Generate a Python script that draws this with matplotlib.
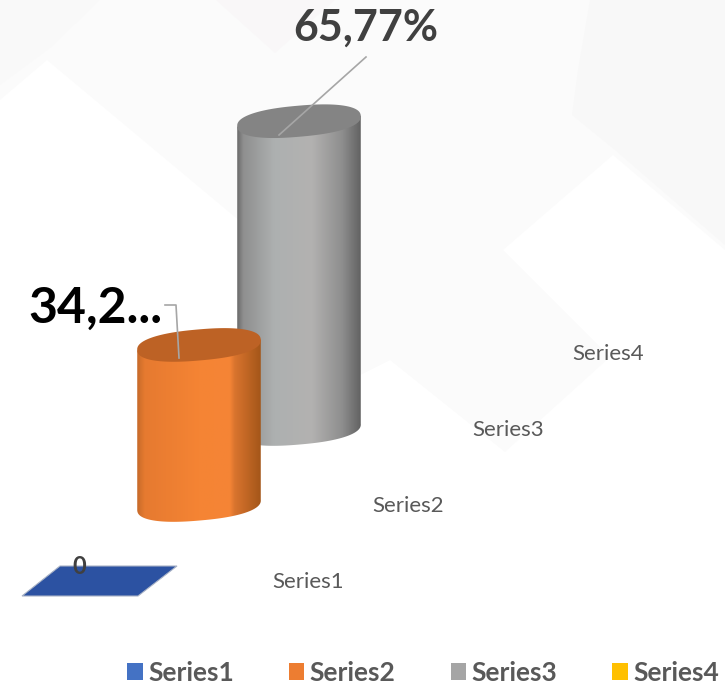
import matplotlib
matplotlib.use("Agg")
import matplotlib.pyplot as plt
from matplotlib.colors import to_rgb
from matplotlib.patches import Polygon, Patch
import numpy as np

categories = ["Series1", "Series2", "Series3", "Series4"]
values = [0, 34.2, 65.77, 0]
labels = ["0", "34,2...", "65,77%"]
legend_colors = ["#4472c4", "#ed7d31", "#a5a5a5", "#ffc000"]

plt.rcParams['font.family'] = ['Lato', 'DejaVu Sans']

W, H = 725, 685
fig = plt.figure(figsize=(W / 100, H / 100), dpi=100)
ax = fig.add_axes([0, 0, 1, 1])
ax.set_xlim(0, W)
ax.set_ylim(H, 0)
ax.axis('off')

# pseudo 3d floor: each category steps right and back
PX_PER_UNIT = 4.68
HALF_W = 62
HALF_H = 15.5
TILT = np.radians(-5)


def base(i):
    return 99 + 100 * i, 581 - 76 * i


def ring(t):
    # slightly squarish ellipse, the columns have round shoulders
    cx = np.sign(np.cos(t)) * np.abs(np.cos(t)) ** 0.85
    cy = np.sign(np.sin(t)) * np.abs(np.sin(t)) ** 0.85
    ex = HALF_W * cx * np.cos(TILT) - HALF_H * cy * np.sin(TILT)
    ey = HALF_W * cx * np.sin(TILT) + HALF_H * cy * np.cos(TILT)
    return ex, ey


def shading(stops):
    pos = [s[0] for s in stops]
    cols = np.array([to_rgb(s[1]) for s in stops])
    u = np.linspace(0, 1, 250)
    return np.stack([np.interp(u, pos, cols[:, k]) for k in range(3)], axis=1)[None, :, :]


def draw_cylinder(i, stops, top, zorder):
    x, y_bot = base(i)
    y_top = y_bot - values[i] * PX_PER_UNIT
    ex, ey = ring(np.linspace(0, np.pi, 90))
    pts = list(zip(x + ex, y_bot + ey))
    pts += [(x + ex[-1], y_top + ey[-1]), (x + ex[0], y_top + ey[0])]
    body = Polygon(pts, closed=True, fc='none', ec='none', zorder=zorder)
    ax.add_patch(body)
    im = ax.imshow(shading(stops), extent=[x - HALF_W, x + HALF_W, y_bot + 30, y_top - 30],
                   aspect='auto', zorder=zorder, interpolation='bilinear')
    im.set_clip_path(body)
    lx, ly = ring(np.linspace(0, 2 * np.pi, 180))
    ax.fill(x + lx, y_top + ly, fc=top, ec='none', zorder=zorder + 0.1)


# faint watermark behind the chart
ax.add_patch(Polygon([(0, 0), (725, 0), (725, 250), (613, 155), (503, 250), (610, 357), (505, 452),
                      (390, 360), (360, 375), (350, 310), (235, 217), (47, 60), (0, 100)],
                     fc='#fbfbfb', ec='none', zorder=0))
ax.add_patch(Polygon([(590, 0), (725, 0), (725, 245), (615, 150), (572, 115), (578, 70)],
                     fc='#f8f8f8', ec='none', zorder=0.1))
ax.add_patch(Polygon([(0, 0), (100, 0), (50, 48), (0, 85)], fc='#f9f9f9', ec='none', zorder=0.1))
ax.add_patch(Polygon([(216, 0), (335, 0), (275, 53)], fc='#f9f7f8', ec='none', zorder=0.1))

# Series1 has no height, only its floor tile
x0, y0 = base(0)
ax.add_patch(Polygon([(x0 - 77, y0 + 15), (x0 + 39, y0 + 15), (x0 + 78, y0 - 15), (x0 - 39, y0 - 15)],
                     fc='#2c52a2', ec='#a9b3c6', lw=0.8, zorder=3))
ax.text(x0 - 20, y0 - 15, labels[0], fontsize=17, fontweight='bold', color='#404040',
        ha='center', va='center', zorder=6)

# grey one is behind the orange one
grey = [(0, '#6a6a6a'), (0.05, '#8f8f8f'), (0.3, '#adb0b0'), (0.6, '#b3b2b1'), (0.85, '#8e8e8e'), (1, '#626262')]
orange = [(0, '#c66a29'), (0.06, '#e67a30'), (0.5, '#f58434'), (0.75, '#f58536'), (0.79, '#d9742e'), (1, '#a45619')]
draw_cylinder(2, grey, '#848484', 3)
draw_cylinder(1, orange, '#bd6225', 4)

# leader lines and labels
ax.plot([366, 279], [57, 135], color='#a6a6a6', lw=1.2, zorder=5)
ax.plot([165, 176, 179], [305, 305, 358], color='#a6a6a6', lw=1.2, zorder=5)
ax.text(366, 28, labels[2], fontsize=31, fontweight='bold', color='#404040', ha='center', va='center', zorder=6)
ax.text(95, 308, labels[1], fontsize=36, fontweight='bold', color='#000000', ha='center', va='center', zorder=6)

# category labels on the floor
for i, name in enumerate(categories):
    x, y = base(i)
    ax.text(x + 209, y + 1, name, fontsize=16, color='#595959', ha='center', va='center', zorder=6)

handles = [Patch(fc=c, ec='none', label=n) for c, n in zip(legend_colors, categories)]
ax.legend(handles=handles, ncol=4, loc='center', bbox_to_anchor=(423 / W, 1 - 673 / H),
          frameon=False, handlelength=0.6, handleheight=0.6, handletextpad=0.2,
          columnspacing=2.08, prop={'size': 19, 'weight': 'bold'}, labelcolor='#595959')

fig.savefig("out.png", dpi=100)
